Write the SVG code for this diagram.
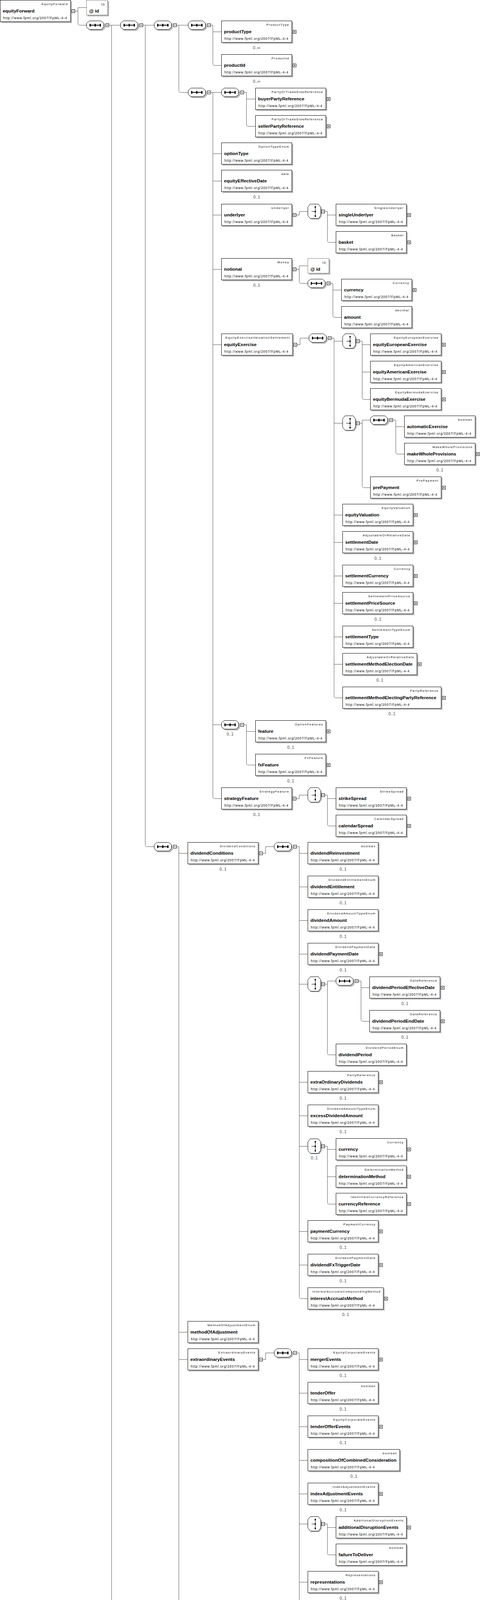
<svg xmlns="http://www.w3.org/2000/svg" width="1256" height="4809" viewBox="0 0 1256 4809">
<style>
.bx{fill:#fff;stroke:#000;stroke-width:1}
.at{fill:#fff;stroke:#000;stroke-width:1;stroke-dasharray:2,2}
.sh{fill:#b8b8b8;stroke:none}
.ic{stroke:#000;fill:none}
.t{font-family:"Liberation Sans",Arial,sans-serif;font-size:7.8px;letter-spacing:1.35px;text-anchor:end;fill:#000}
.n{font-family:"Liberation Sans",Arial,sans-serif;font-size:11.8px;font-weight:bold;fill:#000}
.u{font-family:"Liberation Sans",Arial,sans-serif;font-size:8.5px;letter-spacing:0.95px;fill:#000}
.c{font-family:"Liberation Sans",Arial,sans-serif;font-size:10.5px;fill:#444;text-anchor:middle}
.cn{fill:none;stroke:#555;stroke-width:1}
</style>
<defs>
<g id="seq">
<polygon class="sh" points="10,3 41,3 48,9 48,20 41,26 10,26 3,20 3,9"/>
<polygon class="bx" points="7.5,0.5 37.5,0.5 44.5,6.5 44.5,16.5 37.5,22.5 7.5,22.5 0.5,16.5 0.5,6.5"/>
<path class="ic" d="M9,11.5H36" stroke-width="2"/>
<rect x="8" y="8" width="3" height="7"/><rect x="21" y="8" width="3" height="7"/><rect x="34" y="8" width="3" height="7"/>
<rect class="bx" x="49.5" y="7.5" width="8" height="8"/><path class="ic" d="M51.5,11.5H55.5"/>
</g>
<g id="cho">
<polygon class="sh" points="9,3 30,3 36,11 36,32 30,40 9,40 3,32 3,11"/>
<polygon class="bx" points="6.5,0.5 27.5,0.5 33.5,8.5 33.5,29.5 27.5,37.5 6.5,37.5 0.5,29.5 0.5,8.5"/>
<path class="ic" d="M19.5,7V32M10,19.5H19"/>
<rect x="18" y="6" width="3" height="4"/><rect x="18" y="17.5" width="3" height="4"/><rect x="18" y="29" width="3" height="4"/>
<rect class="bx" x="35.5" y="15.5" width="8" height="8"/><path class="ic" d="M37.5,19.5H41.5"/>
</g>
<g id="mi"><rect class="bx" x="0.5" y="0.5" width="8" height="8"/><path class="ic" d="M2.5,4.5H6.5"/></g>
<g id="pl"><rect class="bx" x="0.5" y="0.5" width="8" height="8"/><path class="ic" d="M2.5,4.5H6.5M4.5,2.5V6.5"/></g>
</defs>
<rect x="0" y="0" width="1256" height="4809" fill="#fff"/>
<g id="connectors" class="cn">
<path d="M192,28.5H199.5M199.5,19.5H221M199.5,19.5V59.5Q199.5,64.5 204.5,64.5H221"/>
<path d="M279,64.5H308M285.5,64.5V4630.5Q285.5,4635.5 290.5,4635.5H308"/>
<path d="M366,64.5H394M371.5,64.5V2162.5Q371.5,2167.5 376.5,2167.5H394"/>
<path d="M452,64.5H481M457.5,64.5V231.5Q457.5,236.5 462.5,236.5H481"/>
<path d="M539,64.5H544.5V162.5Q544.5,167.5 549.5,167.5H566M544.5,81.5H566"/>
<path d="M539,236.5H566M544.5,236.5V2039.5Q544.5,2044.5 549.5,2044.5H566M544.5,393.5H566M544.5,463.5H566M544.5,550.5H566M544.5,689.5H566M544.5,882.5H566M544.5,1855.5H566"/>
<path d="M624,236.5H630.5V318.5Q630.5,323.5 635.5,323.5H653M630.5,253.5H653"/>
<path d="M758,550.5H765.5V541.5H787"/>
<path d="M831,541.5H837.5V615.5Q837.5,620.5 842.5,620.5H859M837.5,550.5H859"/>
<path d="M758,689.5H765.5M765.5,680.5H787M765.5,680.5V720.5Q765.5,725.5 770.5,725.5H787"/>
<path d="M845,725.5H851.5V807.5Q851.5,812.5 856.5,812.5H873M851.5,742.5H873"/>
<path d="M760,882.5H767.5V865.5H790"/>
<path d="M848,865.5H854.5V1781.5Q854.5,1786.5 859.5,1786.5H876M854.5,873.5H876M854.5,1083.5H876M854.5,1318.5H876M854.5,1388.5H876M854.5,1474.5H876M854.5,1544.5H876M854.5,1630.5H876M854.5,1700.5H876"/>
<path d="M920,873.5H926.5V1017.5Q926.5,1022.5 931.5,1022.5H947M926.5,882.5H947M926.5,952.5H947"/>
<path d="M920,1083.5H926.5M926.5,1075.5H947M926.5,1075.5V1243.5Q926.5,1248.5 931.5,1248.5H947"/>
<path d="M1005,1075.5H1012.5V1157.5Q1012.5,1162.5 1017.5,1162.5H1034M1012.5,1092.5H1034"/>
<path d="M624,1855.5H630.5V1953.5Q630.5,1958.5 635.5,1958.5H653M630.5,1872.5H653"/>
<path d="M758,2044.5H765.5V2035.5H787"/>
<path d="M831,2035.5H837.5V2109.5Q837.5,2114.5 842.5,2114.5H859M837.5,2044.5H859"/>
<path d="M452,2167.5H457.5V4303.5Q457.5,4308.5 462.5,4308.5H480M457.5,2184.5H480M457.5,3410.5H480M457.5,3480.5H480"/>
<path d="M672,2184.5H679.5V2167.5H701"/>
<path d="M759,2167.5H765.5V3319.5Q765.5,3324.5 770.5,3324.5H787M765.5,2184.5H787M765.5,2270.5H787M765.5,2356.5H787M765.5,2442.5H787M765.5,2519.5H787M765.5,2770.5H787M765.5,2856.5H787M765.5,2934.5H787M765.5,3152.5H787M765.5,3238.5H787"/>
<path d="M831,2519.5H837.5M837.5,2511.5H859M837.5,2511.5V2695.5Q837.5,2700.5 842.5,2700.5H859"/>
<path d="M917,2511.5H923.5V2609.5Q923.5,2614.5 928.5,2614.5H945M923.5,2528.5H945"/>
<path d="M831,2934.5H837.5V3077.5Q837.5,3082.5 842.5,3082.5H859M837.5,2942.5H859M837.5,3012.5H859"/>
<path d="M672,3480.5H679.5V3463.5H701"/>
<path d="M759,3463.5H765.5V4217.5Q765.5,4222.5 770.5,4222.5H787M765.5,3480.5H787M765.5,3566.5H787M765.5,3652.5H787M765.5,3738.5H787M765.5,3824.5H787M765.5,3901.5H787M765.5,4050.5H787M765.5,4136.5H787"/>
<path d="M831,3901.5H837.5V3975.5Q837.5,3980.5 842.5,3980.5H859M837.5,3910.5H859"/>
<path d="M672,4308.5H679.5V4291.5H701"/>
<path d="M759,4291.5H765.5V4561.5Q765.5,4566.5 770.5,4566.5H787M765.5,4308.5H787M765.5,4394.5H787M765.5,4480.5H787"/>
<path d="M366,4635.5H371.5V4647.5Q371.5,4652.5 376.5,4652.5H394"/>
<path d="M586,4652.5H593.5M593.5,4643.5H615M593.5,4643.5V4683.5Q593.5,4688.5 598.5,4688.5H615"/>
<path d="M673,4688.5H679.5V4770.5Q679.5,4775.5 684.5,4775.5H701M679.5,4705.5H701"/>
</g>
<g id="equityForward"><rect class="sh" x="3" y="3" width="181" height="56"/><rect class="bx" x="0.5" y="0.5" width="180" height="55"/><text class="t" x="174" y="13">EquityForward</text><text class="n" x="7" y="32">equityForward</text><text class="u" x="8" y="49">http://www.fpml.org/2007/FpML-4-4</text><use href="#mi" x="183" y="24"/></g>
<g id="equityForward-id"><rect class="sh" x="224" y="3" width="55" height="39"/><rect class="at" x="221.5" y="0.5" width="54" height="38"/><text class="t" x="269" y="14">ID</text><text class="n" x="228" y="32">@ id</text></g>
<g id="seq1"><use href="#seq" x="221" y="53"/></g>
<g id="seq2"><use href="#seq" x="308" y="53"/></g>
<g id="seq3"><use href="#seq" x="394" y="53"/></g>
<g id="seq4"><use href="#seq" x="481" y="53"/></g>
<g id="productType"><rect class="sh" x="569" y="56" width="181" height="56"/><rect class="bx" x="566.5" y="53.5" width="180" height="55"/><text class="t" x="740" y="66">ProductType</text><text class="n" x="573" y="85">productType</text><text class="u" x="574" y="102">http://www.fpml.org/2007/FpML-4-4</text><use href="#pl" x="749" y="77"/><text class="c" x="656.5" y="126">0..∞</text></g>
<g id="productId"><rect class="sh" x="569" y="142" width="181" height="56"/><rect class="bx" x="566.5" y="139.5" width="180" height="55"/><text class="t" x="740" y="152">ProductId</text><text class="n" x="573" y="171">productId</text><text class="u" x="574" y="188">http://www.fpml.org/2007/FpML-4-4</text><use href="#pl" x="749" y="163"/><text class="c" x="656.5" y="212">0..∞</text></g>
<g id="seqA"><use href="#seq" x="481" y="225"/></g>
<g id="seqB"><use href="#seq" x="566" y="225"/></g>
<g id="buyerPartyReference"><rect class="sh" x="656" y="228" width="181" height="56"/><rect class="bx" x="653.5" y="225.5" width="180" height="55"/><text class="t" x="827" y="238">PartyOrTradeSideReference</text><text class="n" x="660" y="257">buyerPartyReference</text><text class="u" x="661" y="274">http://www.fpml.org/2007/FpML-4-4</text><use href="#pl" x="836" y="249"/></g>
<g id="sellerPartyReference"><rect class="sh" x="656" y="298" width="181" height="56"/><rect class="bx" x="653.5" y="295.5" width="180" height="55"/><text class="t" x="827" y="308">PartyOrTradeSideReference</text><text class="n" x="660" y="327">sellerPartyReference</text><text class="u" x="661" y="344">http://www.fpml.org/2007/FpML-4-4</text><use href="#pl" x="836" y="319"/></g>
<g id="optionType"><rect class="sh" x="569" y="368" width="181" height="56"/><rect class="bx" x="566.5" y="365.5" width="180" height="55"/><text class="t" x="740" y="378">OptionTypeEnum</text><text class="n" x="573" y="397">optionType</text><text class="u" x="574" y="414">http://www.fpml.org/2007/FpML-4-4</text></g>
<g id="equityEffectiveDate"><rect class="sh" x="569" y="438" width="181" height="56"/><rect class="bx" x="566.5" y="435.5" width="180" height="55"/><text class="t" x="740" y="448">date</text><text class="n" x="573" y="467">equityEffectiveDate</text><text class="u" x="574" y="484">http://www.fpml.org/2007/FpML-4-4</text><text class="c" x="656.5" y="508">0..1</text></g>
<g id="underlyer"><rect class="sh" x="569" y="525" width="181" height="56"/><rect class="bx" x="566.5" y="522.5" width="180" height="55"/><text class="t" x="740" y="535">Underlyer</text><text class="n" x="573" y="554">underlyer</text><text class="u" x="574" y="571">http://www.fpml.org/2007/FpML-4-4</text><use href="#mi" x="749" y="546"/></g>
<g id="choiceU"><use href="#cho" x="787" y="522"/></g>
<g id="singleUnderlyer"><rect class="sh" x="862" y="525" width="181" height="56"/><rect class="bx" x="859.5" y="522.5" width="180" height="55"/><text class="t" x="1033" y="535">SingleUnderlyer</text><text class="n" x="866" y="554">singleUnderlyer</text><text class="u" x="867" y="571">http://www.fpml.org/2007/FpML-4-4</text><use href="#pl" x="1042" y="546"/></g>
<g id="basket"><rect class="sh" x="862" y="595" width="181" height="56"/><rect class="bx" x="859.5" y="592.5" width="180" height="55"/><text class="t" x="1033" y="605">Basket</text><text class="n" x="866" y="624">basket</text><text class="u" x="867" y="641">http://www.fpml.org/2007/FpML-4-4</text><use href="#pl" x="1042" y="616"/></g>
<g id="notional"><rect class="sh" x="569" y="664" width="181" height="56"/><rect class="bx" x="566.5" y="661.5" width="180" height="55"/><text class="t" x="740" y="674">Money</text><text class="n" x="573" y="693">notional</text><text class="u" x="574" y="710">http://www.fpml.org/2007/FpML-4-4</text><use href="#mi" x="749" y="685"/><text class="c" x="656.5" y="734">0..1</text></g>
<g id="notional-id"><rect class="sh" x="790" y="664" width="55" height="39"/><rect class="at" x="787.5" y="661.5" width="54" height="38"/><text class="t" x="835" y="675">ID</text><text class="n" x="794" y="693">@ id</text></g>
<g id="seqN"><use href="#seq" x="787" y="714"/></g>
<g id="notional-currency"><rect class="sh" x="876" y="717" width="181" height="56"/><rect class="bx" x="873.5" y="714.5" width="180" height="55"/><text class="t" x="1047" y="727">Currency</text><text class="n" x="880" y="746">currency</text><text class="u" x="881" y="763">http://www.fpml.org/2007/FpML-4-4</text><use href="#pl" x="1056" y="738"/></g>
<g id="notional-amount"><rect class="sh" x="876" y="787" width="181" height="56"/><rect class="bx" x="873.5" y="784.5" width="180" height="55"/><text class="t" x="1047" y="797">decimal</text><text class="n" x="880" y="816">amount</text><text class="u" x="881" y="833">http://www.fpml.org/2007/FpML-4-4</text></g>
<g id="equityExercise"><rect class="sh" x="569" y="857" width="183" height="56"/><rect class="bx" x="566.5" y="854.5" width="182" height="55"/><text class="t" x="742" y="867">EquityExerciseValuationSettlement</text><text class="n" x="573" y="886">equityExercise</text><text class="u" x="574" y="903">http://www.fpml.org/2007/FpML-4-4</text><use href="#mi" x="751" y="878"/></g>
<g id="seqE"><use href="#seq" x="790" y="854"/></g>
<g id="choiceE1"><use href="#cho" x="876" y="854"/></g>
<g id="equityEuropeanExercise"><rect class="sh" x="950" y="857" width="182" height="56"/><rect class="bx" x="947.5" y="854.5" width="181" height="55"/><text class="t" x="1122" y="867">EquityEuropeanExercise</text><text class="n" x="954" y="886">equityEuropeanExercise</text><text class="u" x="955" y="903">http://www.fpml.org/2007/FpML-4-4</text><use href="#pl" x="1131" y="878"/></g>
<g id="equityAmericanExercise"><rect class="sh" x="950" y="927" width="182" height="56"/><rect class="bx" x="947.5" y="924.5" width="181" height="55"/><text class="t" x="1122" y="937">EquityAmericanExercise</text><text class="n" x="954" y="956">equityAmericanExercise</text><text class="u" x="955" y="973">http://www.fpml.org/2007/FpML-4-4</text><use href="#pl" x="1131" y="948"/></g>
<g id="equityBermudaExercise"><rect class="sh" x="950" y="997" width="182" height="56"/><rect class="bx" x="947.5" y="994.5" width="181" height="55"/><text class="t" x="1122" y="1007">EquityBermudaExercise</text><text class="n" x="954" y="1026">equityBermudaExercise</text><text class="u" x="955" y="1043">http://www.fpml.org/2007/FpML-4-4</text><use href="#pl" x="1131" y="1018"/></g>
<g id="choiceE2"><use href="#cho" x="876" y="1064"/></g>
<g id="seqW"><use href="#seq" x="947" y="1064"/></g>
<g id="automaticExercise"><rect class="sh" x="1037" y="1067" width="182" height="56"/><rect class="bx" x="1034.5" y="1064.5" width="181" height="55"/><text class="t" x="1209" y="1077">boolean</text><text class="n" x="1041" y="1096">automaticExercise</text><text class="u" x="1042" y="1113">http://www.fpml.org/2007/FpML-4-4</text></g>
<g id="makeWholeProvisions"><rect class="sh" x="1037" y="1137" width="182" height="56"/><rect class="bx" x="1034.5" y="1134.5" width="181" height="55"/><text class="t" x="1209" y="1147">MakeWholeProvisions</text><text class="n" x="1041" y="1166">makeWholeProvisions</text><text class="u" x="1042" y="1183">http://www.fpml.org/2007/FpML-4-4</text><use href="#pl" x="1218" y="1158"/><text class="c" x="1125" y="1207">0..1</text></g>
<g id="prePayment"><rect class="sh" x="950" y="1223" width="182" height="56"/><rect class="bx" x="947.5" y="1220.5" width="181" height="55"/><text class="t" x="1122" y="1233">PrePayment</text><text class="n" x="954" y="1252">prePayment</text><text class="u" x="955" y="1269">http://www.fpml.org/2007/FpML-4-4</text><use href="#pl" x="1131" y="1244"/></g>
<g id="equityValuation"><rect class="sh" x="879" y="1293" width="181" height="56"/><rect class="bx" x="876.5" y="1290.5" width="180" height="55"/><text class="t" x="1050" y="1303">EquityValuation</text><text class="n" x="883" y="1322">equityValuation</text><text class="u" x="884" y="1339">http://www.fpml.org/2007/FpML-4-4</text><use href="#pl" x="1059" y="1314"/></g>
<g id="settlementDate"><rect class="sh" x="879" y="1363" width="181" height="56"/><rect class="bx" x="876.5" y="1360.5" width="180" height="55"/><text class="t" x="1050" y="1373">AdjustableOrRelativeDate</text><text class="n" x="883" y="1392">settlementDate</text><text class="u" x="884" y="1409">http://www.fpml.org/2007/FpML-4-4</text><use href="#pl" x="1059" y="1384"/><text class="c" x="966.5" y="1433">0..1</text></g>
<g id="settlementCurrency"><rect class="sh" x="879" y="1449" width="181" height="56"/><rect class="bx" x="876.5" y="1446.5" width="180" height="55"/><text class="t" x="1050" y="1459">Currency</text><text class="n" x="883" y="1478">settlementCurrency</text><text class="u" x="884" y="1495">http://www.fpml.org/2007/FpML-4-4</text><use href="#pl" x="1059" y="1470"/></g>
<g id="settlementPriceSource"><rect class="sh" x="879" y="1519" width="181" height="56"/><rect class="bx" x="876.5" y="1516.5" width="180" height="55"/><text class="t" x="1050" y="1529">SettlementPriceSource</text><text class="n" x="883" y="1548">settlementPriceSource</text><text class="u" x="884" y="1565">http://www.fpml.org/2007/FpML-4-4</text><use href="#pl" x="1059" y="1540"/><text class="c" x="966.5" y="1589">0..1</text></g>
<g id="settlementType"><rect class="sh" x="879" y="1605" width="181" height="56"/><rect class="bx" x="876.5" y="1602.5" width="180" height="55"/><text class="t" x="1050" y="1615">SettlementTypeEnum</text><text class="n" x="883" y="1634">settlementType</text><text class="u" x="884" y="1651">http://www.fpml.org/2007/FpML-4-4</text></g>
<g id="settlementMethodElectionDate"><rect class="sh" x="879" y="1675" width="191" height="56"/><rect class="bx" x="876.5" y="1672.5" width="190" height="55"/><text class="t" x="1060" y="1685">AdjustableOrRelativeDate</text><text class="n" x="883" y="1704">settlementMethodElectionDate</text><text class="u" x="884" y="1721">http://www.fpml.org/2007/FpML-4-4</text><use href="#pl" x="1069" y="1696"/><text class="c" x="971.5" y="1745">0..1</text></g>
<g id="settlementMethodElectingPartyReference"><rect class="sh" x="879" y="1761" width="253" height="56"/><rect class="bx" x="876.5" y="1758.5" width="252" height="55"/><text class="t" x="1122" y="1771">PartyReference</text><text class="n" x="883" y="1790">settlementMethodElectingPartyReference</text><text class="u" x="884" y="1807">http://www.fpml.org/2007/FpML-4-4</text><use href="#pl" x="1131" y="1782"/><text class="c" x="1002.5" y="1831">0..1</text></g>
<g id="seqF"><use href="#seq" x="566" y="1844"/><text class="c" x="588.5" y="1883">0..1</text></g>
<g id="feature"><rect class="sh" x="656" y="1847" width="181" height="56"/><rect class="bx" x="653.5" y="1844.5" width="180" height="55"/><text class="t" x="827" y="1857">OptionFeatures</text><text class="n" x="660" y="1876">feature</text><text class="u" x="661" y="1893">http://www.fpml.org/2007/FpML-4-4</text><use href="#pl" x="836" y="1868"/><text class="c" x="743.5" y="1917">0..1</text></g>
<g id="fxFeature"><rect class="sh" x="656" y="1933" width="181" height="56"/><rect class="bx" x="653.5" y="1930.5" width="180" height="55"/><text class="t" x="827" y="1943">FxFeature</text><text class="n" x="660" y="1962">fxFeature</text><text class="u" x="661" y="1979">http://www.fpml.org/2007/FpML-4-4</text><use href="#pl" x="836" y="1954"/><text class="c" x="743.5" y="2003">0..1</text></g>
<g id="strategyFeature"><rect class="sh" x="569" y="2019" width="181" height="56"/><rect class="bx" x="566.5" y="2016.5" width="180" height="55"/><text class="t" x="740" y="2029">StrategyFeature</text><text class="n" x="573" y="2048">strategyFeature</text><text class="u" x="574" y="2065">http://www.fpml.org/2007/FpML-4-4</text><use href="#mi" x="749" y="2040"/><text class="c" x="656.5" y="2089">0..1</text></g>
<g id="choiceS"><use href="#cho" x="787" y="2016"/></g>
<g id="strikeSpread"><rect class="sh" x="862" y="2019" width="181" height="56"/><rect class="bx" x="859.5" y="2016.5" width="180" height="55"/><text class="t" x="1033" y="2029">StrikeSpread</text><text class="n" x="866" y="2048">strikeSpread</text><text class="u" x="867" y="2065">http://www.fpml.org/2007/FpML-4-4</text><use href="#pl" x="1042" y="2040"/></g>
<g id="calendarSpread"><rect class="sh" x="862" y="2089" width="181" height="56"/><rect class="bx" x="859.5" y="2086.5" width="180" height="55"/><text class="t" x="1033" y="2099">CalendarSpread</text><text class="n" x="866" y="2118">calendarSpread</text><text class="u" x="867" y="2135">http://www.fpml.org/2007/FpML-4-4</text><use href="#pl" x="1042" y="2110"/></g>
<g id="seqD"><use href="#seq" x="394" y="2156"/></g>
<g id="dividendConditions"><rect class="sh" x="483" y="2159" width="181" height="56"/><rect class="bx" x="480.5" y="2156.5" width="180" height="55"/><text class="t" x="654" y="2169">DividendConditions</text><text class="n" x="487" y="2188">dividendConditions</text><text class="u" x="488" y="2205">http://www.fpml.org/2007/FpML-4-4</text><use href="#mi" x="663" y="2180"/><text class="c" x="570.5" y="2229">0..1</text></g>
<g id="seqDC"><use href="#seq" x="701" y="2156"/></g>
<g id="dividendReinvestment"><rect class="sh" x="790" y="2159" width="181" height="56"/><rect class="bx" x="787.5" y="2156.5" width="180" height="55"/><text class="t" x="961" y="2169">boolean</text><text class="n" x="794" y="2188">dividendReinvestment</text><text class="u" x="795" y="2205">http://www.fpml.org/2007/FpML-4-4</text><text class="c" x="877.5" y="2229">0..1</text></g>
<g id="dividendEntitlement"><rect class="sh" x="790" y="2245" width="181" height="56"/><rect class="bx" x="787.5" y="2242.5" width="180" height="55"/><text class="t" x="961" y="2255">DividendEntitlementEnum</text><text class="n" x="794" y="2274">dividendEntitlement</text><text class="u" x="795" y="2291">http://www.fpml.org/2007/FpML-4-4</text><text class="c" x="877.5" y="2315">0..1</text></g>
<g id="dividendAmount"><rect class="sh" x="790" y="2331" width="181" height="56"/><rect class="bx" x="787.5" y="2328.5" width="180" height="55"/><text class="t" x="961" y="2341">DividendAmountTypeEnum</text><text class="n" x="794" y="2360">dividendAmount</text><text class="u" x="795" y="2377">http://www.fpml.org/2007/FpML-4-4</text><text class="c" x="877.5" y="2401">0..1</text></g>
<g id="dividendPaymentDate"><rect class="sh" x="790" y="2417" width="181" height="56"/><rect class="bx" x="787.5" y="2414.5" width="180" height="55"/><text class="t" x="961" y="2427">DividendPaymentDate</text><text class="n" x="794" y="2446">dividendPaymentDate</text><text class="u" x="795" y="2463">http://www.fpml.org/2007/FpML-4-4</text><use href="#pl" x="970" y="2438"/><text class="c" x="877.5" y="2487">0..1</text></g>
<g id="choiceDP"><use href="#cho" x="787" y="2500"/></g>
<g id="seqDP"><use href="#seq" x="859" y="2500"/></g>
<g id="dividendPeriodEffectiveDate"><rect class="sh" x="948" y="2503" width="181" height="56"/><rect class="bx" x="945.5" y="2500.5" width="180" height="55"/><text class="t" x="1119" y="2513">DateReference</text><text class="n" x="952" y="2532">dividendPeriodEffectiveDate</text><text class="u" x="953" y="2549">http://www.fpml.org/2007/FpML-4-4</text><use href="#pl" x="1128" y="2524"/><text class="c" x="1035.5" y="2573">0..1</text></g>
<g id="dividendPeriodEndDate"><rect class="sh" x="948" y="2589" width="181" height="56"/><rect class="bx" x="945.5" y="2586.5" width="180" height="55"/><text class="t" x="1119" y="2599">DateReference</text><text class="n" x="952" y="2618">dividendPeriodEndDate</text><text class="u" x="953" y="2635">http://www.fpml.org/2007/FpML-4-4</text><use href="#pl" x="1128" y="2610"/><text class="c" x="1035.5" y="2659">0..1</text></g>
<g id="dividendPeriod"><rect class="sh" x="862" y="2675" width="181" height="56"/><rect class="bx" x="859.5" y="2672.5" width="180" height="55"/><text class="t" x="1033" y="2685">DividendPeriodEnum</text><text class="n" x="866" y="2704">dividendPeriod</text><text class="u" x="867" y="2721">http://www.fpml.org/2007/FpML-4-4</text></g>
<g id="extraOrdinaryDividends"><rect class="sh" x="790" y="2745" width="181" height="56"/><rect class="bx" x="787.5" y="2742.5" width="180" height="55"/><text class="t" x="961" y="2755">PartyReference</text><text class="n" x="794" y="2774">extraOrdinaryDividends</text><text class="u" x="795" y="2791">http://www.fpml.org/2007/FpML-4-4</text><use href="#pl" x="970" y="2766"/><text class="c" x="877.5" y="2815">0..1</text></g>
<g id="excessDividendAmount"><rect class="sh" x="790" y="2831" width="181" height="56"/><rect class="bx" x="787.5" y="2828.5" width="180" height="55"/><text class="t" x="961" y="2841">DividendAmountTypeEnum</text><text class="n" x="794" y="2860">excessDividendAmount</text><text class="u" x="795" y="2877">http://www.fpml.org/2007/FpML-4-4</text><text class="c" x="877.5" y="2901">0..1</text></g>
<g id="choiceDC"><use href="#cho" x="787" y="2915"/><text class="c" x="804" y="2968">0..1</text></g>
<g id="dividend-currency"><rect class="sh" x="862" y="2917" width="181" height="56"/><rect class="bx" x="859.5" y="2914.5" width="180" height="55"/><text class="t" x="1033" y="2927">Currency</text><text class="n" x="866" y="2946">currency</text><text class="u" x="867" y="2963">http://www.fpml.org/2007/FpML-4-4</text><use href="#pl" x="1042" y="2938"/></g>
<g id="determinationMethod"><rect class="sh" x="862" y="2987" width="181" height="56"/><rect class="bx" x="859.5" y="2984.5" width="180" height="55"/><text class="t" x="1033" y="2997">DeterminationMethod</text><text class="n" x="866" y="3016">determinationMethod</text><text class="u" x="867" y="3033">http://www.fpml.org/2007/FpML-4-4</text><use href="#pl" x="1042" y="3008"/></g>
<g id="currencyReference"><rect class="sh" x="862" y="3057" width="181" height="56"/><rect class="bx" x="859.5" y="3054.5" width="180" height="55"/><text class="t" x="1033" y="3067">IdentifiedCurrencyReference</text><text class="n" x="866" y="3086">currencyReference</text><text class="u" x="867" y="3103">http://www.fpml.org/2007/FpML-4-4</text><use href="#pl" x="1042" y="3078"/></g>
<g id="paymentCurrency"><rect class="sh" x="790" y="3127" width="181" height="56"/><rect class="bx" x="787.5" y="3124.5" width="180" height="55"/><text class="t" x="961" y="3137">PaymentCurrency</text><text class="n" x="794" y="3156">paymentCurrency</text><text class="u" x="795" y="3173">http://www.fpml.org/2007/FpML-4-4</text><use href="#pl" x="970" y="3148"/><text class="c" x="877.5" y="3197">0..1</text></g>
<g id="dividendFxTriggerDate"><rect class="sh" x="790" y="3213" width="181" height="56"/><rect class="bx" x="787.5" y="3210.5" width="180" height="55"/><text class="t" x="961" y="3223">DividendPaymentDate</text><text class="n" x="794" y="3242">dividendFxTriggerDate</text><text class="u" x="795" y="3259">http://www.fpml.org/2007/FpML-4-4</text><use href="#pl" x="970" y="3234"/><text class="c" x="877.5" y="3283">0..1</text></g>
<g id="interestAccrualsMethod"><rect class="sh" x="790" y="3299" width="194" height="56"/><rect class="bx" x="787.5" y="3296.5" width="193" height="55"/><text class="t" x="974" y="3309">InterestAccrualsCompoundingMethod</text><text class="n" x="794" y="3328">interestAccrualsMethod</text><text class="u" x="795" y="3345">http://www.fpml.org/2007/FpML-4-4</text><use href="#pl" x="983" y="3320"/><text class="c" x="884" y="3369">0..1</text></g>
<g id="methodOfAdjustment"><rect class="sh" x="483" y="3385" width="181" height="56"/><rect class="bx" x="480.5" y="3382.5" width="180" height="55"/><text class="t" x="654" y="3395">MethodOfAdjustmentEnum</text><text class="n" x="487" y="3414">methodOfAdjustment</text><text class="u" x="488" y="3431">http://www.fpml.org/2007/FpML-4-4</text></g>
<g id="extraordinaryEvents"><rect class="sh" x="483" y="3455" width="181" height="56"/><rect class="bx" x="480.5" y="3452.5" width="180" height="55"/><text class="t" x="654" y="3465">ExtraordinaryEvents</text><text class="n" x="487" y="3484">extraordinaryEvents</text><text class="u" x="488" y="3501">http://www.fpml.org/2007/FpML-4-4</text><use href="#mi" x="663" y="3476"/></g>
<g id="seqEE"><use href="#seq" x="701" y="3452"/></g>
<g id="mergerEvents"><rect class="sh" x="790" y="3455" width="181" height="56"/><rect class="bx" x="787.5" y="3452.5" width="180" height="55"/><text class="t" x="961" y="3465">EquityCorporateEvents</text><text class="n" x="794" y="3484">mergerEvents</text><text class="u" x="795" y="3501">http://www.fpml.org/2007/FpML-4-4</text><use href="#pl" x="970" y="3476"/><text class="c" x="877.5" y="3525">0..1</text></g>
<g id="tenderOffer"><rect class="sh" x="790" y="3541" width="181" height="56"/><rect class="bx" x="787.5" y="3538.5" width="180" height="55"/><text class="t" x="961" y="3551">boolean</text><text class="n" x="794" y="3570">tenderOffer</text><text class="u" x="795" y="3587">http://www.fpml.org/2007/FpML-4-4</text><text class="c" x="877.5" y="3611">0..1</text></g>
<g id="tenderOfferEvents"><rect class="sh" x="790" y="3627" width="181" height="56"/><rect class="bx" x="787.5" y="3624.5" width="180" height="55"/><text class="t" x="961" y="3637">EquityCorporateEvents</text><text class="n" x="794" y="3656">tenderOfferEvents</text><text class="u" x="795" y="3673">http://www.fpml.org/2007/FpML-4-4</text><use href="#pl" x="970" y="3648"/><text class="c" x="877.5" y="3697">0..1</text></g>
<g id="compositionOfCombinedConsideration"><rect class="sh" x="790" y="3713" width="236" height="56"/><rect class="bx" x="787.5" y="3710.5" width="235" height="55"/><text class="t" x="1016" y="3723">boolean</text><text class="n" x="794" y="3742">compositionOfCombinedConsideration</text><text class="u" x="795" y="3759">http://www.fpml.org/2007/FpML-4-4</text><text class="c" x="905" y="3783">0..1</text></g>
<g id="indexAdjustmentEvents"><rect class="sh" x="790" y="3799" width="181" height="56"/><rect class="bx" x="787.5" y="3796.5" width="180" height="55"/><text class="t" x="961" y="3809">IndexAdjustmentEvents</text><text class="n" x="794" y="3828">indexAdjustmentEvents</text><text class="u" x="795" y="3845">http://www.fpml.org/2007/FpML-4-4</text><use href="#pl" x="970" y="3820"/><text class="c" x="877.5" y="3869">0..1</text></g>
<g id="choiceEE"><use href="#cho" x="787" y="3882"/></g>
<g id="additionalDisruptionEvents"><rect class="sh" x="862" y="3885" width="181" height="56"/><rect class="bx" x="859.5" y="3882.5" width="180" height="55"/><text class="t" x="1033" y="3895">AdditionalDisruptionEvents</text><text class="n" x="866" y="3914">additionalDisruptionEvents</text><text class="u" x="867" y="3931">http://www.fpml.org/2007/FpML-4-4</text><use href="#pl" x="1042" y="3906"/></g>
<g id="failureToDeliver"><rect class="sh" x="862" y="3955" width="181" height="56"/><rect class="bx" x="859.5" y="3952.5" width="180" height="55"/><text class="t" x="1033" y="3965">boolean</text><text class="n" x="866" y="3984">failureToDeliver</text><text class="u" x="867" y="4001">http://www.fpml.org/2007/FpML-4-4</text></g>
<g id="representations"><rect class="sh" x="790" y="4025" width="181" height="56"/><rect class="bx" x="787.5" y="4022.5" width="180" height="55"/><text class="t" x="961" y="4035">Representations</text><text class="n" x="794" y="4054">representations</text><text class="u" x="795" y="4071">http://www.fpml.org/2007/FpML-4-4</text><use href="#pl" x="970" y="4046"/><text class="c" x="877.5" y="4095">0..1</text></g>
<g id="nationalisationOrInsolvency"><rect class="sh" x="790" y="4111" width="255" height="56"/><rect class="bx" x="787.5" y="4108.5" width="254" height="55"/><text class="t" x="1035" y="4121">NationalisationOrInsolvencyOrDelistingEventEnum</text><text class="n" x="794" y="4140">nationalisationOrInsolvency</text><text class="u" x="795" y="4157">http://www.fpml.org/2007/FpML-4-4</text><text class="c" x="914.5" y="4181">0..1</text></g>
<g id="delisting"><rect class="sh" x="790" y="4197" width="255" height="56"/><rect class="bx" x="787.5" y="4194.5" width="254" height="55"/><text class="t" x="1035" y="4207">NationalisationOrInsolvencyOrDelistingEventEnum</text><text class="n" x="794" y="4226">delisting</text><text class="u" x="795" y="4243">http://www.fpml.org/2007/FpML-4-4</text><text class="c" x="914.5" y="4267">0..1</text></g>
<g id="equityFeatures"><rect class="sh" x="483" y="4283" width="181" height="56"/><rect class="bx" x="480.5" y="4280.5" width="180" height="55"/><text class="t" x="654" y="4293">OptionFeatures</text><text class="n" x="487" y="4312">equityFeatures</text><text class="u" x="488" y="4329">http://www.fpml.org/2007/FpML-4-4</text><use href="#mi" x="663" y="4304"/><text class="c" x="570.5" y="4353">0..1</text></g>
<g id="seqEF"><use href="#seq" x="701" y="4280"/></g>
<g id="asian"><rect class="sh" x="790" y="4283" width="181" height="56"/><rect class="bx" x="787.5" y="4280.5" width="180" height="55"/><text class="t" x="961" y="4293">Asian</text><text class="n" x="794" y="4312">asian</text><text class="u" x="795" y="4329">http://www.fpml.org/2007/FpML-4-4</text><use href="#pl" x="970" y="4304"/><text class="c" x="877.5" y="4353">0..1</text></g>
<g id="barrier"><rect class="sh" x="790" y="4369" width="181" height="56"/><rect class="bx" x="787.5" y="4366.5" width="180" height="55"/><text class="t" x="961" y="4379">Barrier</text><text class="n" x="794" y="4398">barrier</text><text class="u" x="795" y="4415">http://www.fpml.org/2007/FpML-4-4</text><use href="#pl" x="970" y="4390"/><text class="c" x="877.5" y="4439">0..1</text></g>
<g id="knock"><rect class="sh" x="790" y="4455" width="181" height="56"/><rect class="bx" x="787.5" y="4452.5" width="180" height="55"/><text class="t" x="961" y="4465">Knock</text><text class="n" x="794" y="4484">knock</text><text class="u" x="795" y="4501">http://www.fpml.org/2007/FpML-4-4</text><use href="#pl" x="970" y="4476"/><text class="c" x="877.5" y="4525">0..1</text></g>
<g id="passThrough"><rect class="sh" x="790" y="4541" width="181" height="56"/><rect class="bx" x="787.5" y="4538.5" width="180" height="55"/><text class="t" x="961" y="4551">PassThrough</text><text class="n" x="794" y="4570">passThrough</text><text class="u" x="795" y="4587">http://www.fpml.org/2007/FpML-4-4</text><use href="#pl" x="970" y="4562"/><text class="c" x="877.5" y="4611">0..1</text></g>
<g id="seqFP"><use href="#seq" x="308" y="4624"/></g>
<g id="forwardPrice"><rect class="sh" x="397" y="4627" width="181" height="56"/><rect class="bx" x="394.5" y="4624.5" width="180" height="55"/><text class="t" x="568" y="4637">Money</text><text class="n" x="401" y="4656">forwardPrice</text><text class="u" x="402" y="4673">http://www.fpml.org/2007/FpML-4-4</text><use href="#mi" x="577" y="4648"/><text class="c" x="484.5" y="4697">0..1</text></g>
<g id="forwardPrice-id"><rect class="sh" x="618" y="4627" width="55" height="39"/><rect class="at" x="615.5" y="4624.5" width="54" height="38"/><text class="t" x="663" y="4638">ID</text><text class="n" x="622" y="4656">@ id</text></g>
<g id="seqFPc"><use href="#seq" x="615" y="4677"/></g>
<g id="forwardPrice-currency"><rect class="sh" x="704" y="4680" width="181" height="56"/><rect class="bx" x="701.5" y="4677.5" width="180" height="55"/><text class="t" x="875" y="4690">Currency</text><text class="n" x="708" y="4709">currency</text><text class="u" x="709" y="4726">http://www.fpml.org/2007/FpML-4-4</text><use href="#pl" x="884" y="4701"/></g>
<g id="forwardPrice-amount"><rect class="sh" x="704" y="4750" width="181" height="56"/><rect class="bx" x="701.5" y="4747.5" width="180" height="55"/><text class="t" x="875" y="4760">decimal</text><text class="n" x="708" y="4779">amount</text><text class="u" x="709" y="4796">http://www.fpml.org/2007/FpML-4-4</text></g>
</svg>
